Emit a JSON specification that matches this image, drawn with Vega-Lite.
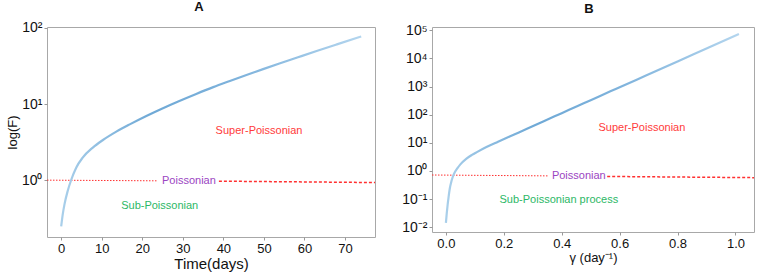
{
  "$schema": "https://vega.github.io/schema/vega-lite/v6.json",
  "padding": {"left": 5, "top": 0, "right": 5, "bottom": 0},
  "spacing": 22,
  "config": {
    "font": "Liberation Sans",
    "view": {"stroke": "#a8a8a8", "strokeWidth": 1},
    "axis": {"grid": false, "domain": false, "labelFont": "Liberation Sans", "titleFont": "Liberation Sans", "labelColor": "#111111", "titleColor": "#111111", "tickColor": "#999999", "tickSize": 3, "labelFontSize": 13, "titleFontWeight": "normal", "titleFontSize": 14},
    "axisX": {"titlePadding": 1},
    "title": {"font": "Liberation Sans", "fontSize": 13, "fontWeight": "bold", "color": "#111111", "offset": 7}
  },
  "datasets": {
    "curveA": [
      {"t": 0, "F": 0.247}, {"t": 0.4, "F": 0.36}, {"t": 0.81, "F": 0.48}, {"t": 1.6, "F": 0.72}, {"t": 2.5, "F": 1.02},
      {"t": 3.7, "F": 1.46}, {"t": 5.3, "F": 1.98}, {"t": 7.8, "F": 2.68}, {"t": 10.3, "F": 3.37}, {"t": 13.6, "F": 4.34},
      {"t": 16.9, "F": 5.41}, {"t": 21, "F": 6.98}, {"t": 25.1, "F": 8.83}, {"t": 29, "F": 10.9}, {"t": 33.3, "F": 13.6},
      {"t": 37.5, "F": 16.7}, {"t": 41.6, "F": 20.1}, {"t": 45.7, "F": 24.1}, {"t": 49.8, "F": 28.8}, {"t": 54, "F": 34.4},
      {"t": 58.4, "F": 41.2}, {"t": 63, "F": 49.7}, {"t": 68, "F": 60.8}, {"t": 74, "F": 77.3}
    ],
    "refA": [
      {"seg": "left", "t": -3.5, "F": 1.0}, {"seg": "left", "t": 23.8, "F": 0.98},
      {"seg": "right", "t": 38.9, "F": 0.97}, {"seg": "right", "t": 77.4, "F": 0.93}
    ],
    "textA": [
      {"label": "Super-Poissonian", "t": 48.8, "F": 4.4},
      {"label": "Poissonian", "t": 31.5, "F": 0.98},
      {"label": "Sub-Poissonian", "t": 24.3, "F": 0.46}
    ],
    "curveB": [
      {"g": 0.0, "F": 0.0143}, {"g": 0.003, "F": 0.0316}, {"g": 0.006, "F": 0.0631}, {"g": 0.009, "F": 0.112}, {"g": 0.013, "F": 0.224},
      {"g": 0.02, "F": 0.468}, {"g": 0.027, "F": 0.759}, {"g": 0.04, "F": 1.259}, {"g": 0.05, "F": 1.72}, {"g": 0.07, "F": 2.69},
      {"g": 0.09, "F": 3.72}, {"g": 0.107, "F": 4.68}, {"g": 0.14, "F": 7.08}, {"g": 0.18, "F": 10.96}, {"g": 0.222, "F": 17.2},
      {"g": 0.28, "F": 31.6}, {"g": 0.338, "F": 58.9}, {"g": 0.4, "F": 113.5}, {"g": 0.453, "F": 199.5}, {"g": 0.5, "F": 327},
      {"g": 0.568, "F": 676}, {"g": 0.6, "F": 944}, {"g": 0.689, "F": 2427}, {"g": 0.8, "F": 7852}, {"g": 0.9, "F": 22650},
      {"g": 1.012, "F": 74130}
    ],
    "refB": [
      {"seg": "left", "g": -0.048, "F": 0.72}, {"seg": "left", "g": 0.355, "F": 0.67},
      {"seg": "right", "g": 0.557, "F": 0.64}, {"seg": "right", "g": 1.064, "F": 0.58}
    ],
    "textB": [
      {"label": "Super-Poissonian", "g": 0.677, "F": 35},
      {"label": "Poissonian", "g": 0.459, "F": 0.68},
      {"label": "Sub-Poissonian process", "g": 0.39, "F": 0.094}
    ]
  },
  "hconcat": [
    {
      "width": 328,
      "height": 210,
      "title": {"text": "A", "dx": -12},
      "layer": [
        {
          "data": {"name": "refA"},
          "transform": [{"filter": "datum.seg == 'left'"}],
          "mark": {"type": "line", "color": "#ff3030", "strokeWidth": 1, "strokeDash": [1.5, 1.5]},
          "encoding": {
            "x": {"field": "t", "type": "quantitative", "scale": {"domain": [-3.5, 77.4], "nice": false, "zero": false}},
            "y": {"field": "F", "type": "quantitative", "scale": {"type": "log", "domain": [0.179, 103], "nice": false}}
          }
        },
        {
          "data": {"name": "refA"},
          "transform": [{"filter": "datum.seg == 'right'"}],
          "mark": {"type": "line", "color": "#ff3030", "strokeWidth": 1.5, "strokeDash": [3, 2]},
          "encoding": {
            "x": {"field": "t", "type": "quantitative"},
            "y": {"field": "F", "type": "quantitative"}
          }
        },
        {
          "data": {"name": "curveA"},
          "mark": {"type": "line", "strokeWidth": 2.2, "interpolate": "monotone", "color": {"gradient": "linear", "stops": [{"offset": 0, "color": "#a9cfea"}, {"offset": 0.3, "color": "#6fa9d6"}, {"offset": 0.6, "color": "#7fb3dc"}, {"offset": 1, "color": "#b3d5ee"}]}},
          "encoding": {
            "x": {"field": "t", "type": "quantitative", "axis": {"title": "Time(days)", "values": [0, 10, 20, 30, 40, 50, 60, 70], "titleFontSize": 15, "labelFontSize": 13}},
            "y": {"field": "F", "type": "quantitative", "axis": {"title": "log(F)", "values": [1, 10, 100], "labelFontSize": 14, "titleFontSize": 13, "titlePadding": 2, "labelExpr": "'10' + {'-2':'⁻²','-1':'⁻¹','0':'⁰','1':'¹','2':'²','3':'³','4':'⁴','5':'⁵'}['' + round(log(datum.value) / LN10)]"}}
          }
        },
        {
          "data": {"name": "textA"},
          "mark": {"type": "text", "fontSize": 11, "align": "center", "baseline": "middle"},
          "encoding": {
            "x": {"field": "t", "type": "quantitative"},
            "y": {"field": "F", "type": "quantitative"},
            "text": {"field": "label"},
            "color": {"field": "label", "type": "nominal", "legend": null, "scale": {"domain": ["Super-Poissonian", "Poissonian", "Sub-Poissonian", "Sub-Poissonian process"], "range": ["#ff3b3b", "#9b45c2", "#2cb866", "#2cb866"]}}
          }
        }
      ]
    },
    {
      "width": 322,
      "height": 205,
      "title": {"text": "B", "dx": -4},
      "layer": [
        {
          "data": {"name": "refB"},
          "transform": [{"filter": "datum.seg == 'left'"}],
          "mark": {"type": "line", "color": "#ff3030", "strokeWidth": 1, "strokeDash": [1.5, 1.5]},
          "encoding": {
            "x": {"field": "g", "type": "quantitative", "scale": {"domain": [-0.048, 1.064], "nice": false, "zero": false}},
            "y": {"field": "F", "type": "quantitative", "scale": {"type": "log", "domain": [0.00679, 131000], "nice": false}}
          }
        },
        {
          "data": {"name": "refB"},
          "transform": [{"filter": "datum.seg == 'right'"}],
          "mark": {"type": "line", "color": "#ff3030", "strokeWidth": 1.5, "strokeDash": [3, 2]},
          "encoding": {
            "x": {"field": "g", "type": "quantitative"},
            "y": {"field": "F", "type": "quantitative"}
          }
        },
        {
          "data": {"name": "curveB"},
          "mark": {"type": "line", "strokeWidth": 2.2, "interpolate": "monotone", "color": {"gradient": "linear", "stops": [{"offset": 0, "color": "#a9cfea"}, {"offset": 0.3, "color": "#6fa9d6"}, {"offset": 0.6, "color": "#7fb3dc"}, {"offset": 1, "color": "#b3d5ee"}]}},
          "encoding": {
            "x": {"field": "g", "type": "quantitative", "axis": {"title": "γ (day⁻¹)", "values": [0, 0.2, 0.4, 0.6, 0.8, 1.0], "format": ".1f", "titleFontSize": 13, "labelFontSize": 13}},
            "y": {"field": "F", "type": "quantitative", "axis": {"title": null, "values": [0.01, 0.1, 1, 10, 100, 1000, 10000, 100000], "labelFontSize": 14, "labelExpr": "'10' + {'-2':'⁻²','-1':'⁻¹','0':'⁰','1':'¹','2':'²','3':'³','4':'⁴','5':'⁵'}['' + round(log(datum.value) / LN10)]"}}
          }
        },
        {
          "data": {"name": "textB"},
          "mark": {"type": "text", "fontSize": 11, "align": "center", "baseline": "middle"},
          "encoding": {
            "x": {"field": "g", "type": "quantitative"},
            "y": {"field": "F", "type": "quantitative"},
            "text": {"field": "label"},
            "color": {"field": "label", "type": "nominal", "legend": null, "scale": {"domain": ["Super-Poissonian", "Poissonian", "Sub-Poissonian", "Sub-Poissonian process"], "range": ["#ff3b3b", "#9b45c2", "#2cb866", "#2cb866"]}}
          }
        }
      ]
    }
  ]
}
